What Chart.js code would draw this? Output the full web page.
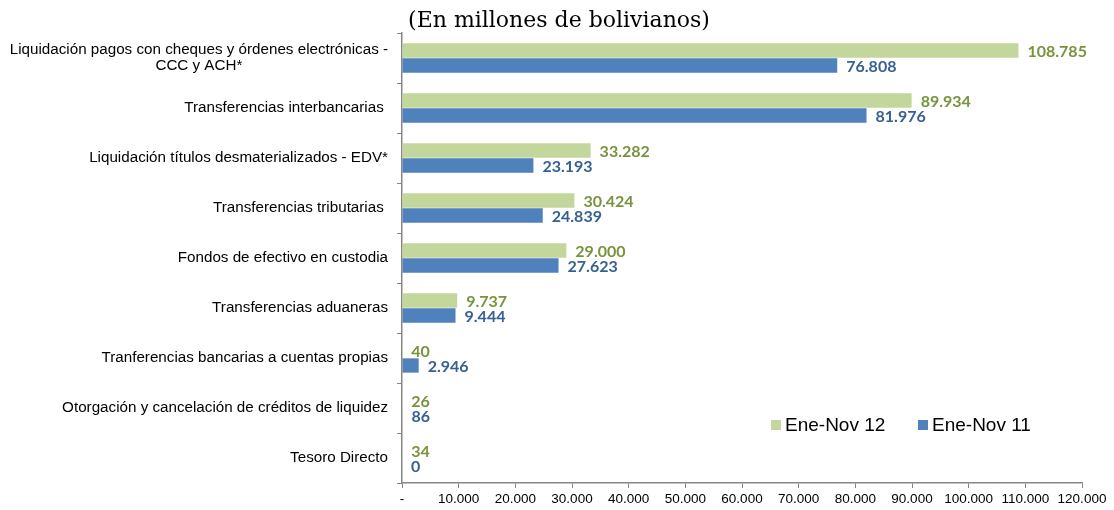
<!DOCTYPE html>
<html>
<head>
<meta charset="utf-8">
<script src="https://cdn.jsdelivr.net/npm/chart.js@4.4.0/dist/chart.umd.min.js"></script>
<style>
html,body{margin:0;padding:0;background:#fff;}
#wrap{width:1114px;height:510px;position:relative;}
</style>
</head>
<body>
<div id="wrap"><canvas id="c" width="1114" height="510"></canvas></div>
<script>
const categories = [
  ["Liquidación pagos con cheques y órdenes electrónicas -", "CCC y ACH*"],
  ["Transferencias interbancarias "],
  ["Liquidación títulos desmaterializados - EDV*"],
  ["Transferencias tributarias "],
  ["Fondos de efectivo en custodia"],
  ["Transferencias aduaneras"],
  ["Tranferencias bancarias a cuentas propias"],
  ["Otorgación y cancelación de créditos de liquidez"],
  ["Tesoro Directo"]
];
const seriesNames = ["Ene-Nov 12", "Ene-Nov 11"];
const values2012 = [108785, 89934, 33282, 30424, 29000, 9737, 40, 26, 34];
const values2011 = [76808, 81976, 23193, 24839, 27623, 9444, 2946, 86, 0];
const xTicks = [0, 10000, 20000, 30000, 40000, 50000, 60000, 70000, 80000, 90000, 100000, 110000, 120000];
const titleText = "(En millones de bolivianos)";

const fmtLabel = v => String(Math.round(v)).replace(/\B(?=(\d{3})+(?!\d))/g, ".");
const fmtTick = v => v === 0 ? "-" : fmtLabel(v);

const fillColors = ["#C3D69B", "#4F81BD"];
const labelColors = ["#77933C", "#376092"];
const axisColor = "#868686";
const sans = "'Liberation Sans', Arial, sans-serif";

const valueLabels = {
  id: 'valueLabels',
  afterDatasetsDraw(chart) {
    const ctx = chart.ctx;
    ctx.save();
    ctx.font = "bold 16px Lato, 'Open Sans', sans-serif";
    ctx.textBaseline = 'middle';
    ctx.textAlign = 'left';
    chart.data.datasets.forEach((ds, di) => {
      const meta = chart.getDatasetMeta(di);
      ctx.fillStyle = labelColors[di];
      meta.data.forEach((bar, i) => {
        ctx.fillText(fmtLabel(ds.data[i]), bar.x + 9, bar.y + 1);
      });
    });
    ctx.restore();
  }
};

const titleDraw = {
  id: 'titleDraw',
  afterDraw(chart) {
    const ctx = chart.ctx;
    ctx.save();
    ctx.font = "22px 'DejaVu Serif', 'Liberation Serif', serif";
    ctx.fillStyle = "#000";
    ctx.textAlign = 'center';
    ctx.textBaseline = 'alphabetic';
    ctx.fillText(titleText, 559, 27);
    ctx.restore();
  }
};

const yLabels = {
  id: 'yLabels',
  afterDraw(chart) {
    const ctx = chart.ctx;
    const y = chart.scales.y;
    ctx.save();
    ctx.font = "15.2px " + sans;
    ctx.fillStyle = "#000";
    ctx.textBaseline = 'middle';
    ctx.textAlign = 'center';
    const right = y.right - 14;
    const lh = 16;
    categories.forEach((lines, i) => {
      const cy = y.getPixelForTick(i);
      const maxW = Math.max(...lines.map(l => ctx.measureText(l).width));
      const cx = right - maxW / 2;
      const y0 = cy - (lines.length - 1) * lh / 2;
      lines.forEach((l, k) => ctx.fillText(l, cx, y0 + k * lh));
    });
    ctx.restore();
  }
};

const legendBox = {
  id: 'legendBox',
  afterDraw(chart) {
    const ctx = chart.ctx;
    ctx.save();
    ctx.font = "19px " + sans;
    ctx.textBaseline = 'middle';
    ctx.textAlign = 'left';
    const cy = 425;
    const starts = [771, 918];
    chart.data.datasets.forEach((ds, di) => {
      ctx.fillStyle = fillColors[di];
      ctx.fillRect(starts[di], cy - 5, 10, 10);
      ctx.fillStyle = "#000";
      ctx.fillText(ds.label, starts[di] + 14, cy + 1);
    });
    ctx.restore();
  }
};

new Chart(document.getElementById('c'), {
  type: 'bar',
  data: {
    labels: categories.map(l => l.join(' ')),
    datasets: [
      { label: seriesNames[0], data: values2012, backgroundColor: fillColors[0], borderWidth: 0 },
      { label: seriesNames[1], data: values2011, backgroundColor: fillColors[1], borderWidth: 0 }
    ]
  },
  options: {
    indexAxis: 'y',
    responsive: false,
    animation: false,
    layout: { padding: { left: 0, right: 32, top: 33, bottom: 3 } },
    plugins: {
      legend: { display: false },
      tooltip: { enabled: false },
      title: { display: false }
    },
    datasets: { bar: { categoryPercentage: 0.6, barPercentage: 0.953 } },
    scales: {
      x: {
        min: 0, max: 120000,
        afterBuildTicks(s) { s.ticks = xTicks.map(v => ({ value: v })); },
        afterFit(s) { s.height = 24; },
        grid: { display: true, drawOnChartArea: false, drawTicks: true, tickLength: 5, color: axisColor, lineWidth: 1 },
        border: { display: true, color: axisColor, width: 1.5 },
        ticks: { callback: v => fmtTick(v), color: '#000', font: { family: sans, size: 13.5 }, padding: 3, maxRotation: 0, autoSkip: false }
      },
      y: {
        afterFit(s) { s.width = 402; },
        grid: { display: true, drawOnChartArea: false, drawTicks: true, tickLength: 5, color: axisColor, offset: true },
        border: { display: true, color: axisColor, width: 1.5 },
        ticks: { display: false }
      }
    }
  },
  plugins: [valueLabels, yLabels, legendBox, titleDraw]
});
</script>
</body>
</html>
